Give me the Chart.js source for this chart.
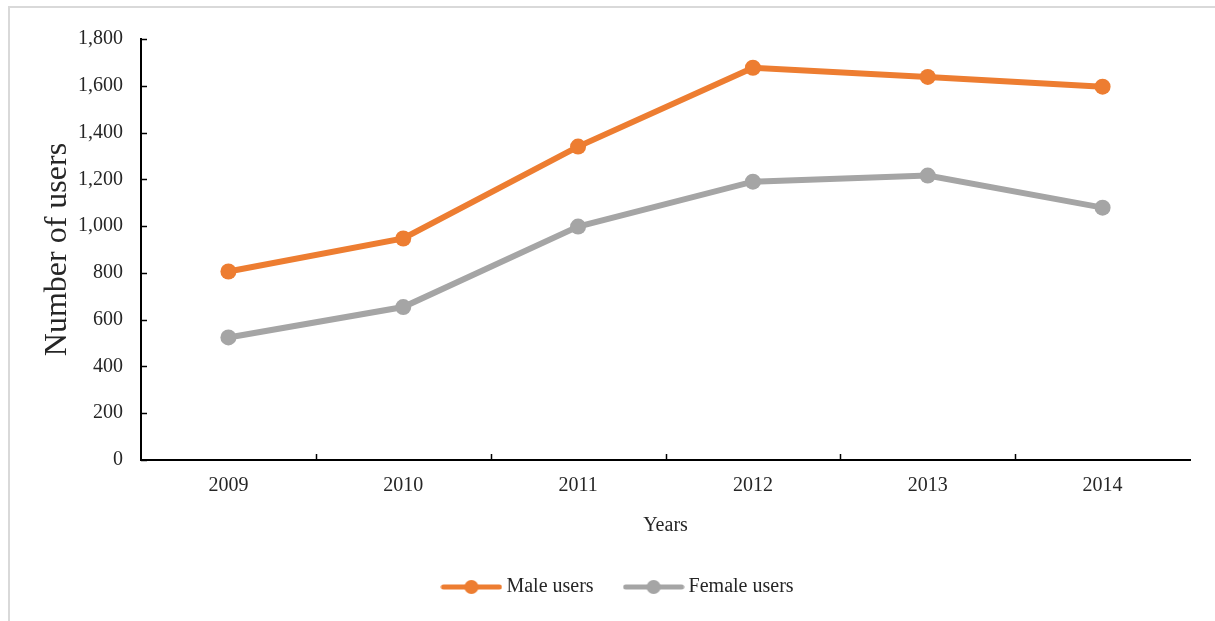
<!DOCTYPE html>
<html>
<head>
<meta charset="utf-8">
<script src="https://cdn.jsdelivr.net/npm/chart.js@4.4.0/dist/chart.umd.min.js"></script>
<style>
  body { margin: 0; background: #fff; }
  #frame { position: absolute; left: 8px; top: 6px; width: 1215px; height: 630px; border: 2px solid #d9d9d9; }
  #wrap { position: absolute; left: 0; top: 0; width: 1215px; height: 621px; }
</style>
</head>
<body>
<div id="frame"></div>
<div id="wrap"><canvas id="myChart" width="1215" height="621"></canvas></div>
<script>
var years = ['2009', '2010', '2011', '2012', '2013', '2014'];
var maleUsers = [806, 947, 1340, 1677, 1638, 1596];
var femaleUsers = [524, 654, 998, 1190, 1216, 1079];
var yTicks = [0, 200, 400, 600, 800, 1000, 1200, 1400, 1600, 1800];

var orange = '#ed7d31';
var grey = '#a5a5a5';
var serif = '"Liberation Serif", "Times New Roman", serif';

// legend marker: a line with a dot in the middle
function legendMarker(color) {
  var c = document.createElement('canvas');
  c.width = 62; c.height = 18;
  var g = c.getContext('2d');
  g.strokeStyle = color;
  g.lineWidth = 5;
  g.lineCap = 'round';
  g.beginPath(); g.moveTo(3, 9); g.lineTo(59, 9); g.stroke();
  g.fillStyle = color;
  g.beginPath(); g.arc(31, 9, 7, 0, Math.PI * 2); g.fill();
  return c;
}

// tick marks drawn inside the plot, like the original
var innerTicks = {
  id: 'innerTicks',
  afterDraw: function(chart) {
    var ctx = chart.ctx, x = chart.scales.x, y = chart.scales.y, a = chart.chartArea;
    ctx.save();
    ctx.strokeStyle = '#000';
    ctx.lineWidth = 1.5;
    yTicks.forEach(function(v) {
      var py = Math.round(y.getPixelForValue(v)) + 0.5;
      ctx.beginPath(); ctx.moveTo(a.left, py); ctx.lineTo(a.left + 6, py); ctx.stroke();
    });
    var step = (a.right - a.left) / years.length;
    for (var i = 1; i < years.length; i++) {
      var px = Math.round(a.left + step * i) + 0.5;
      ctx.beginPath(); ctx.moveTo(px, a.bottom); ctx.lineTo(px, a.bottom - 6); ctx.stroke();
    }
    ctx.restore();
  }
};

var ctx = document.getElementById('myChart').getContext('2d');
var myChart = new Chart(ctx, {
  type: 'line',
  data: {
    labels: years,
    datasets: [{
      label: 'Male users',
      data: maleUsers,
      borderColor: orange,
      backgroundColor: orange,
      borderWidth: 6,
      pointRadius: 8,
      pointBorderWidth: 0,
      pointStyle: 'circle',
      tension: 0
    }, {
      label: 'Female users',
      data: femaleUsers,
      borderColor: grey,
      backgroundColor: grey,
      borderWidth: 6,
      pointRadius: 8,
      pointBorderWidth: 0,
      pointStyle: 'circle',
      tension: 0
    }]
  },
  options: {
    responsive: false,
    animation: false,
    layout: {
      padding: { left: 50, right: 25, top: 39, bottom: 14 }
    },
    plugins: {
      legend: {
        position: 'bottom',
        labels: {
          usePointStyle: true,
          pointStyleWidth: 50,
          boxHeight: 16,
          padding: 35,
          color: '#262626',
          font: { family: serif, size: 20 },
          generateLabels: function(chart) {
            return chart.data.datasets.map(function(ds, i) {
              return {
                text: ds.label,
                pointStyle: legendMarker(ds.borderColor),
                fillStyle: ds.borderColor,
                strokeStyle: ds.borderColor,
                lineWidth: 0,
                fontColor: '#262626',
                datasetIndex: i
              };
            });
          }
        }
      },
      tooltip: { enabled: false }
    },
    scales: {
      x: {
        offset: true,
        grid: { display: false, drawTicks: false },
        border: { color: '#000', width: 2 },
        ticks: { color: '#262626', font: { family: serif, size: 20 }, padding: 14 },
        title: {
          display: true,
          text: 'Years',
          color: '#262626',
          font: { family: serif, size: 20 },
          padding: { top: 6 }
        },
        afterFit: function(scale) { scale.height = 82; }
      },
      y: {
        min: 0,
        max: 1800,
        afterBuildTicks: function(scale) {
          scale.ticks = yTicks.map(function(v) { return { value: v }; });
        },
        grid: { display: false, drawTicks: false },
        border: { color: '#000', width: 2 },
        ticks: {
          color: '#262626',
          font: { family: serif, size: 20 },
          padding: 18,
          callback: function(v) { return v.toLocaleString('en-US'); }
        },
        title: {
          display: true,
          text: 'Number of users',
          color: '#262626',
          font: { family: serif, size: 32 },
          padding: { top: -12, bottom: 0 }
        },
        afterFit: function(scale) { scale.width = 91; }
      }
    }
  },
  plugins: [innerTicks]
});
</script>
</body>
</html>
